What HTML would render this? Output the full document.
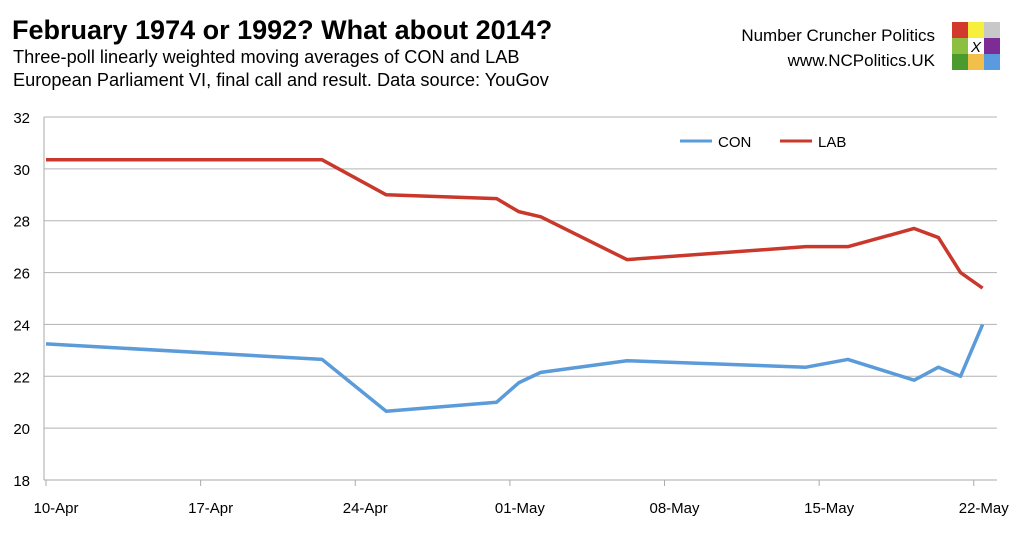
<!DOCTYPE html>
<html><head><meta charset="utf-8"><style>
body{margin:0;width:1024px;height:529px;background:#fff;overflow:hidden;font-family:"Liberation Sans",sans-serif}
</style></head><body>
<svg width="1024" height="529">
<text x="12" y="39" font-size="27" font-weight="bold">February 1974 or 1992? What about 2014?</text>
<text x="13" y="63" font-size="18.2">Three-poll linearly weighted moving averages of CON and LAB</text>
<text x="13" y="86" font-size="18.2">European Parliament VI, final call and result. Data source: YouGov</text>
<text x="935" y="41" font-size="17" text-anchor="end">Number Cruncher Politics</text>
<text x="935" y="66" font-size="17" text-anchor="end">www.NCPolitics.UK</text>
<g>
<rect x="952" y="22" width="16" height="16" fill="#d0392b"/><rect x="968" y="22" width="16" height="16" fill="#f6f03c"/><rect x="984" y="22" width="16" height="16" fill="#c8c8c8"/>
<rect x="952" y="38" width="16" height="16" fill="#8cbf3f"/><rect x="968" y="38" width="16" height="16" fill="#fff"/><rect x="984" y="38" width="16" height="16" fill="#7b2c95"/>
<rect x="952" y="54" width="16" height="16" fill="#4a9a2d"/><rect x="968" y="54" width="16" height="16" fill="#f2c04a"/><rect x="984" y="54" width="16" height="16" fill="#5a9be0"/>
<text x="976" y="52" font-size="15" font-style="italic" text-anchor="middle">X</text>
</g>
<g id="grid"></g><g id="axes"></g><g id="series"></g>
<g>
<line x1="680" y1="141" x2="712" y2="141" stroke="#5b9bd9" stroke-width="3"/><text x="718" y="147" font-size="15">CON</text>
<line x1="780" y1="141" x2="812" y2="141" stroke="#c9382b" stroke-width="3"/><text x="818" y="147" font-size="15">LAB</text>
</g>
</svg>
<script>
const days=[0,12.5,15.4,20.4,21.4,22.4,26.3,34.4,36.3,39.3,40.4,41.4,42.4];
const conValues=[23.25,22.65,20.65,21.0,21.75,22.15,22.6,22.35,22.65,21.85,22.35,22.0,24.0];
const labValues=[30.35,30.35,29.0,28.85,28.35,28.15,26.5,27.0,27.0,27.7,27.35,26.0,25.4];
const yTicks=[18,20,22,24,26,28,30,32];
const xTickDays=[0,7,14,21,28,35,42];
const xTickLabels=["10-Apr","17-Apr","24-Apr","01-May","08-May","15-May","22-May"];
const NS="http://www.w3.org/2000/svg";
const X=d=>46+d*22.09, Y=v=>480-(v-18)*(363/14);
function mk(t,a,p){const e=document.createElementNS(NS,t);for(const k in a)e.setAttribute(k,a[k]);p.appendChild(e);return e;}
const grid=document.getElementById('grid'),axes=document.getElementById('axes'),ser=document.getElementById('series');
yTicks.forEach(v=>{
 const l=mk('line',{x1:44,x2:997,y1:Y(v),y2:Y(v),stroke:v===18?'#aaa':'#b3b3b3','stroke-width':1},grid);
 
 
 const t=mk('text',{x:30,y:Y(v)+6,'font-size':15,'text-anchor':'end'},axes);t.textContent=v;
 
 
});
mk('line',{x1:44,x2:44,y1:117,y2:480,stroke:'#aaa'},axes);
xTickDays.forEach((d,i)=>{
 mk('line',{x1:X(d),x2:X(d),y1:480,y2:486,stroke:'#aaa'},axes);
 const t=mk('text',{x:Math.min(X(d)+10,1000),y:513,'font-size':15,'text-anchor':'middle'},axes);t.textContent=xTickLabels[i];
 
 
});
function line(vals,col,name){
 const p=mk('polyline',{points:days.map((d,i)=>X(d)+','+Y(vals[i])).join(' '),fill:'none',stroke:col,'stroke-width':3.5,'stroke-linejoin':'round'},ser);
 
 
}
line(conValues,'#5b9bd9','con-line');
line(labValues,'#c9382b','lab-line');
</script>
</body></html>
